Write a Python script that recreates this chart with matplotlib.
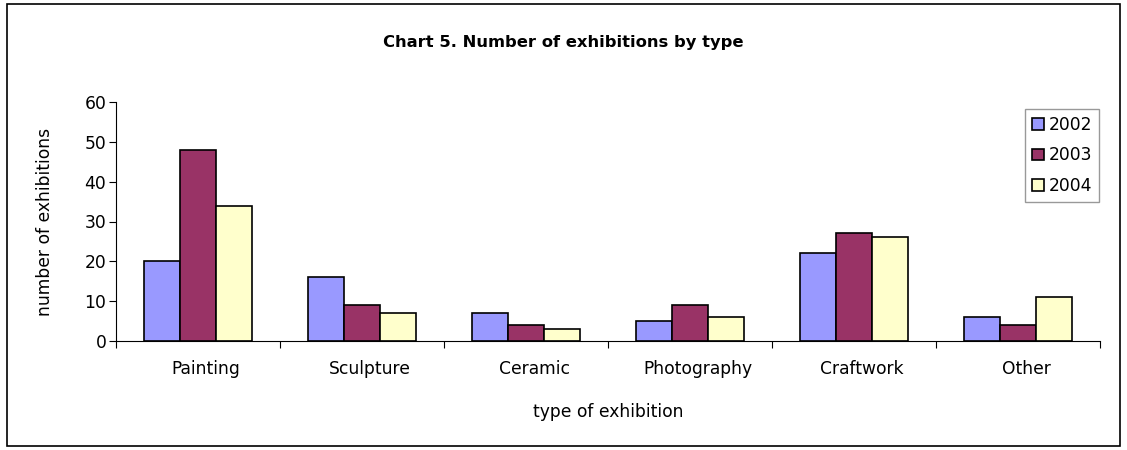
import numpy as np
import matplotlib
matplotlib.use("Agg")
import matplotlib.pyplot as plt
from matplotlib.patches import Rectangle
from matplotlib.transforms import ScaledTranslation

categories = ["Painting", "Sculpture", "Ceramic", "Photography", "Craftwork", "Other"]
years = ["2002", "2003", "2004"]
vals_2002 = [20, 16, 7, 5, 22, 6]
vals_2003 = [48, 9, 4, 9, 27, 4]
vals_2004 = [34, 7, 3, 6, 26, 11]

colors = ["#9999FF", "#993366", "#FFFFCC"]

plt.rcParams["font.family"] = ["DejaVu Sans"]
fs = 12.3

fig = plt.figure(figsize=(11.27, 4.5), dpi=100)
ax = fig.add_axes([116 / 1127, 1 - 341 / 450, (1100 - 116) / 1127, (341 - 102) / 450])

# outer frame
fig.patches.append(Rectangle((7 / 1127, 4 / 450), 1113 / 1127, 442 / 450,
                             transform=fig.transFigure, fill=False,
                             edgecolor="black", linewidth=1.2))

x = np.arange(len(categories))
w = 0.22
for i, (vals, yr) in enumerate(zip([vals_2002, vals_2003, vals_2004], years)):
    ax.bar(x + (i - 1) * w, vals, w, color=colors[i], edgecolor="black",
           linewidth=1.2, label=yr)

ax.set_xlim(-0.5, len(categories) - 0.5)
ax.set_ylim(0, 60)
ax.set_yticks(range(0, 61, 10))
ax.set_xticks(np.arange(-0.5, len(categories), 1), minor=False)
ax.set_xticklabels([])
ax.set_xticks(x, minor=True)
ax.set_xticklabels(categories, minor=True, fontsize=fs)
ax.tick_params(axis="x", which="minor", length=0, pad=14)
ax.tick_params(axis="x", which="major", length=5, direction="out")
ax.tick_params(axis="y", labelsize=fs, length=5, direction="out", pad=2)

# category labels sit a little right of the bar groups, as in the original
shift = ScaledTranslation(8 / 100, 0, fig.dpi_scale_trans)
for lab in ax.get_xticklabels(minor=True):
    lab.set_transform(lab.get_transform() + shift)

for s in ["top", "right"]:
    ax.spines[s].set_visible(False)

ax.set_xlabel("type of exhibition", fontsize=fs, labelpad=18)
ax.set_ylabel("number of exhibitions", fontsize=fs, labelpad=22)
fig.text(0.5, 1 - 42 / 450, "Chart 5. Number of exhibitions by type",
         ha="center", va="center", fontsize=11.8, fontweight="bold")

leg = ax.legend(loc="upper left", bbox_to_anchor=((1025 - 116) / 984, 1 - 7 / 239),
                frameon=True, fancybox=False, edgecolor="#808080", fontsize=fs,
                handlelength=0.7, handleheight=0.7, handletextpad=0.3,
                borderpad=0.4, labelspacing=0.74, borderaxespad=0)
leg.get_frame().set_linewidth(1)

fig.savefig("out.png", dpi=100)
